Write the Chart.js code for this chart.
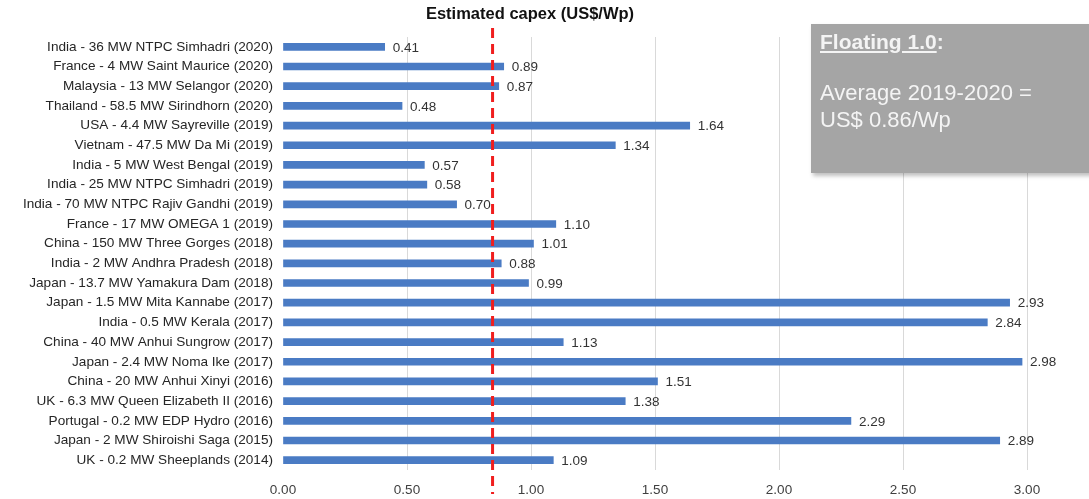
<!DOCTYPE html>
<html>
<head>
<meta charset="utf-8">
<script src="https://cdn.jsdelivr.net/npm/chart.js@4"></script>
<style>
  html, body { margin: 0; padding: 0; background: #fff; }
  #wrap { position: relative; width: 1089px; height: 499px; }
  #note {
    position: absolute; left: 811px; top: 24px; width: 290px; height: 149px;
    background: #a5a5a5; color: #f4f4f4; font-family: "Liberation Sans", Arial, sans-serif;
    box-shadow: 2px 3px 4px rgba(0,0,0,0.25); box-sizing: border-box; padding: 6px 0 0 9px;
  }
  #note .hd { font-size: 21px; font-weight: bold; }
  #note .hd u { text-underline-offset: 2px; }
  #note .bd { font-size: 22px; margin-top: 25px; line-height: 27px; }
</style>
</head>
<body>
<div id="wrap">
  <canvas id="capexChart" width="1089" height="499"></canvas>
  <div id="note">
    <div class="hd"><u>Floating 1.0</u>:</div>
    <div class="bd">Average 2019-2020 =<br>US$ 0.86/Wp</div>
  </div>
</div>
<script>
// project names (top to bottom)
const projects = [
  'India - 36 MW NTPC Simhadri (2020)',
  'France - 4 MW Saint Maurice (2020)',
  'Malaysia - 13 MW Selangor (2020)',
  'Thailand - 58.5 MW Sirindhorn (2020)',
  'USA - 4.4 MW Sayreville (2019)',
  'Vietnam - 47.5 MW Da Mi (2019)',
  'India - 5 MW West Bengal (2019)',
  'India - 25 MW NTPC Simhadri (2019)',
  'India - 70 MW NTPC Rajiv Gandhi (2019)',
  'France - 17 MW OMEGA 1 (2019)',
  'China - 150 MW Three Gorges (2018)',
  'India - 2 MW Andhra Pradesh (2018)',
  'Japan - 13.7 MW Yamakura Dam (2018)',
  'Japan - 1.5 MW Mita Kannabe (2017)',
  'India - 0.5 MW Kerala (2017)',
  'China - 40 MW Anhui Sungrow (2017)',
  'Japan - 2.4 MW Noma Ike (2017)',
  'China - 20 MW Anhui Xinyi (2016)',
  'UK - 6.3 MW Queen Elizabeth II (2016)',
  'Portugal - 0.2 MW EDP Hydro (2016)',
  'Japan - 2 MW Shiroishi Saga (2015)',
  'UK - 0.2 MW Sheeplands (2014)'
];
const capex = [0.41, 0.89, 0.87, 0.48, 1.64, 1.34, 0.57, 0.58, 0.70, 1.10, 1.01,
               0.88, 0.99, 2.93, 2.84, 1.13, 2.98, 1.51, 1.38, 2.29, 2.89, 1.09];
const xTicks = [0, 0.5, 1, 1.5, 2, 2.5, 3];
const avgLine = 0.845; // red dashed average marker (as drawn)

const FONT = '"Liberation Sans", Arial, sans-serif';

// value labels next to the bars
const valueLabels = {
  id: 'valueLabels',
  afterDatasetsDraw(chart) {
    const ctx = chart.ctx;
    const meta = chart.getDatasetMeta(0);
    ctx.save();
    ctx.font = '13.5px ' + FONT;
    ctx.fillStyle = '#333';
    ctx.textBaseline = 'middle';
    meta.data.forEach((bar, i) => {
      ctx.fillText(capex[i].toFixed(2), bar.x + 8, bar.y + 1);
    });
    ctx.restore();
  }
};

// dashed average line + title
const extras = {
  id: 'extras',
  afterDraw(chart) {
    const ctx = chart.ctx;
    const x = chart.scales.x.getPixelForValue(avgLine);
    ctx.save();
    ctx.strokeStyle = '#f01e1e';
    ctx.lineWidth = 3;
    ctx.setLineDash([10, 6]);
    ctx.beginPath();
    ctx.moveTo(x, 28);
    ctx.lineTo(x, 494);
    ctx.stroke();
    ctx.setLineDash([]);
    ctx.font = 'bold 16.5px ' + FONT;
    ctx.fillStyle = '#111';
    ctx.textAlign = 'center';
    ctx.textBaseline = 'middle';
    ctx.fillText('Estimated capex (US$/Wp)', 530, 14);
    ctx.restore();
  }
};

const ctx = document.getElementById('capexChart').getContext('2d');
const capexChart = new Chart(ctx, {
  type: 'bar',
  data: {
    labels: projects,
    datasets: [{
      data: capex,
      backgroundColor: '#4a7bc4',
      borderWidth: 0,
      barThickness: 7
    }]
  },
  options: {
    indexAxis: 'y',
    responsive: false,
    animation: false,
    layout: { padding: { top: 37, right: 62, left: 0, bottom: 0 } },
    plugins: { legend: { display: false }, tooltip: { enabled: false } },
    scales: {
      x: {
        min: 0, max: 3,
        afterBuildTicks(scale) { scale.ticks = xTicks.map(v => ({ value: v })); },
        afterFit(scale) { scale.height = 29; },
        border: { display: false },
        grid: {
          color: c => c.tick && c.tick.value === 0 ? 'rgba(0,0,0,0)' : '#d9d9d9',
          drawTicks: false
        },
        ticks: {
          padding: 12,
          color: '#404040',
          font: { family: FONT, size: 13.5 },
          callback: v => Number(v).toFixed(2)
        }
      },
      y: {
        afterFit(scale) { scale.width = 283; },
        border: { display: false },
        grid: { display: false, drawTicks: false },
        ticks: {
          autoSkip: false,
          padding: 10,
          color: '#262626',
          font: { family: FONT, size: 13.6 }
        }
      }
    }
  },
  plugins: [valueLabels, extras]
});
</script>
</body>
</html>
